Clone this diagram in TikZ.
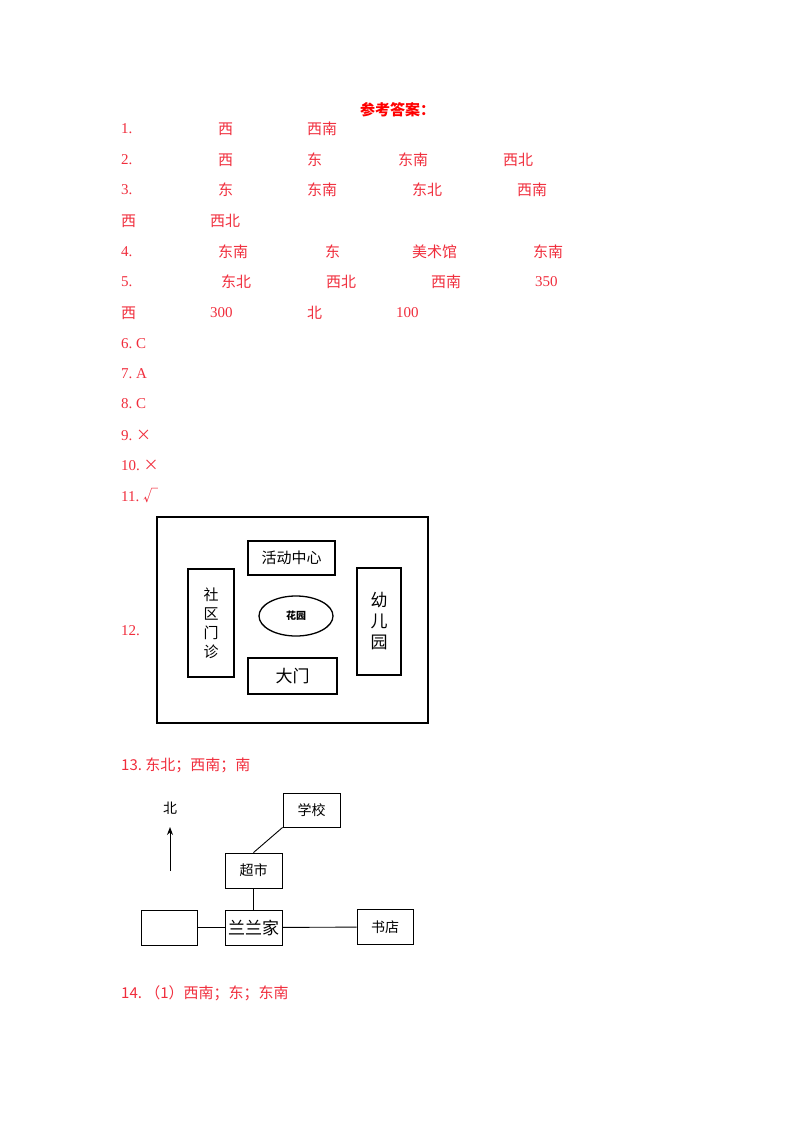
\documentclass[tikz,border=0pt]{standalone}
\usepackage{fontspec}
\usetikzlibrary{shapes.geometric,arrows.meta}
\setmainfont{Liberation Serif}
\newfontfamily\cjk{Noto Sans CJK SC}
\definecolor{ans}{RGB}{240,45,60}
\begin{document}
\begin{tikzpicture}[x=1pt,y=-1pt,
  t/.style={anchor=west,inner sep=0pt,text=ans,font=\fontsize{15}{15}\selectfont\cjk},
  n/.style={anchor=west,inner sep=0pt,text=ans,font=\fontsize{15}{15}\selectfont},
  bx/.style={draw,line width=1.3pt,inner sep=0pt,font=\fontsize{15}{15}\selectfont\cjk},
  mb/.style={draw,line width=0.9pt,inner sep=0pt,font=\fontsize{14}{14}\selectfont\cjk}]
\useasboundingbox (0,0) rectangle (800,1132);
\node[anchor=west,inner sep=0pt,text=red,font=\fontsize{15}{15}\selectfont\cjk\bfseries] (title) at (360,110) {参考答案：};
% line 1
\node[n] (a1) at (121,129) {1.};
\node[t] (a1a) at (218,129) {西};
\node[t] (a1b) at (307,129) {西南};
% line 2
\node[n] (a2) at (121,160) {2.};
\node[t] (a2a) at (218,160) {西};
\node[t] (a2b) at (307,160) {东};
\node[t] (a2c) at (398,160) {东南};
\node[t] (a2d) at (503,160) {西北};
% line 3
\node[n] (a3) at (121,190) {3.};
\node[t] (a3a) at (218,190) {东};
\node[t] (a3b) at (307,190) {东南};
\node[t] (a3c) at (412,190) {东北};
\node[t] (a3d) at (517,190) {西南};
\node[t] (a3e) at (121,221) {西};
\node[t] (a3f) at (210,221) {西北};
% line 4
\node[n] (a4) at (121,252) {4.};
\node[t] (a4a) at (218,252) {东南};
\node[t] (a4b) at (325,252) {东};
\node[t] (a4c) at (412,252) {美术馆};
\node[t] (a4d) at (533,252) {东南};
% line 5
\node[n] (a5) at (121,282) {5.};
\node[t] (a5a) at (221,282) {东北};
\node[t] (a5b) at (326,282) {西北};
\node[t] (a5c) at (431,282) {西南};
\node[n] (a5d) at (535,282) {350};
\node[t] (a5e) at (121,313) {西};
\node[n] (a5f) at (210,313) {300};
\node[t] (a5g) at (307,313) {北};
\node[n] (a5h) at (396,313) {100};
\node[n] (a6) at (121,344) {6.~C};
\node[n] (a7) at (121,374) {7.~A};
\node[n] (a8) at (121,404) {8.~C};
\node[n] (a9) at (121,435) {9.~\cjk ×};
\node[n] (a10) at (121,465) {10.~\cjk ×};
\node[n] (a11) at (121,496) {11.~\cjk √};
\node[n] (a12) at (121,631) {12.};
% diagram 12
\node[draw,line width=1.3pt,minimum width=271pt,minimum height=206pt,inner sep=0pt] (frame) at (292.5,620) {};
\node[bx,minimum width=87pt,minimum height=34pt] (hd) at (291.5,558) {活动中心};
\node[bx,minimum width=46pt,minimum height=108pt,align=center] (sq) at (211,623) {社\\[4pt]区\\[4pt]门\\[4pt]诊};
\node[draw,line width=1.3pt,ellipse,minimum width=74pt,minimum height=40pt,inner sep=0pt,font=\fontsize{10}{10}\selectfont\cjk\bfseries] (hy) at (296,616) {花园};
\node[bx,minimum width=44pt,minimum height=107pt,align=center,font=\fontsize{17}{17}\selectfont\cjk] (ye) at (379,621.5) {幼\\[4pt]儿\\[4pt]园};
\node[bx,minimum width=89pt,minimum height=36pt,font=\fontsize{17}{17}\selectfont\cjk] (dm) at (292.5,676) {大门};
% 13
\node[t] (a13) at (121,765) {13.~东北；西南；南};
\node[inner sep=0pt,font=\fontsize{14}{14}\selectfont\cjk] (bei) at (170,808) {北};
\coordinate (arS) at (170,871);
\coordinate (arE) at (170,827);
\draw[line width=1pt,-{Stealth[length=8pt,width=6pt]}] (arS) -- (arE);
\node[mb,minimum width=57pt,minimum height=34pt] (xx) at (311.5,810) {学校};
\node[mb,minimum width=57pt,minimum height=35pt] (cs) at (253.5,870.5) {超市};
\node[mb,minimum width=57pt,minimum height=35pt,font=\fontsize{17}{17}\selectfont\cjk] (llj) at (253.5,927.5) {兰兰家};
\node[mb,minimum width=56pt,minimum height=35pt] (emp) at (169,927.5) {};
\node[mb,minimum width=56pt,minimum height=35pt] (sd) at (385,927) {书店};
\draw[line width=0.9pt] (xx.south west) -- (cs.north);
\draw[line width=0.9pt] (cs) -- (llj);
\draw[line width=0.9pt] (emp) -- (llj);
\draw[line width=0.9pt] (llj) -- (sd);
\node[t] (a14) at (121,993) {14.~（1）西南；东；东南};
\end{tikzpicture}
\end{document}
